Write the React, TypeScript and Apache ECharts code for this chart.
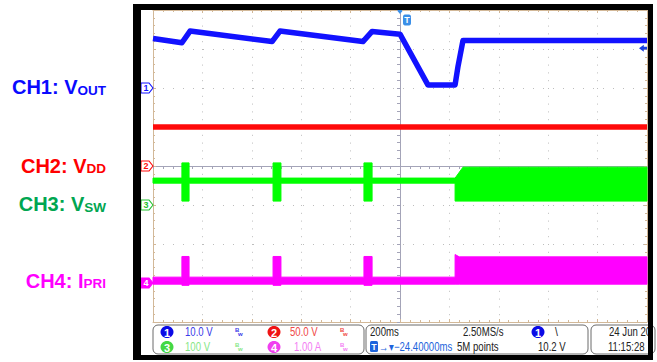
import { useEffect, useRef } from "react";
import * as echarts from "echarts";

// ---- time base: 200 ms/div, 10 divisions, trigger at centre (ms) ----
const timeMin = -1000;
const timeMax = 1000;
const timeStep = 200;

// ---- vertical settings: units/div and ground position (divisions from centre) ----
const chScale = [10, 50, 100, 1];
const chOffset = [2, 0, -1, -3];

// ---- CH1 V_OUT (V) ----
const ch1Time = [-1000, -883, -850, -518, -486, -150, -113, 0, 113, 223, 235, 255, 1000];
const ch1Volts = [12.7, 11.6, 14.6, 11.9, 14.6, 11.9, 14.5, 13.8, 0.8, 0.8, 5.6, 12.2, 12.2];

// ---- CH2 V_DD (V) ----
const ch2Time = [-1000, 1000];
const ch2Volts = [50, 50];

// ---- CH3 V_SW envelope (V) ----
const ch3Time = [-1000, -883, -883, -854, -854, -514, -514, -482, -482, -146, -146, -113, -113, 223, 223, 255, 1000];
const ch3Low = [56, 56, 10, 10, 56, 56, 10, 10, 56, 56, 10, 10, 56, 56, 10, 10, 10];
const ch3High = [69, 69, 108, 108, 69, 69, 108, 108, 69, 69, 108, 108, 69, 69, 69, 97, 97];

// ---- CH4 I_PRI envelope (A) ----
const ch4Time = [-1000, -883, -883, -854, -854, -514, -514, -482, -482, -146, -146, -113, -113, 223, 223, 240, 1000];
const ch4Low = [-0.03, -0.03, -0.06, -0.06, -0.03, -0.03, -0.06, -0.06, -0.03, -0.03, -0.06, -0.06, -0.03, -0.03, -0.03, -0.03, -0.03];
const ch4High = [0.15, 0.15, 0.68, 0.68, 0.15, 0.15, 0.68, 0.68, 0.15, 0.15, 0.68, 0.68, 0.15, 0.15, 0.73, 0.67, 0.67];

// ---- trigger ----
const triggerLevel = 10.2;

// ---- channel labels ----
const chNames = ["CH1: V", "CH2: V", "CH3: V", "CH4: I"];
const chSubs = ["OUT", "DD", "SW", "PRI"];
const chLabelColors = ["#0a0aff", "#ff0000", "#00a651", "#ff00ff"];
const traceColors = ["#1212ff", "#ff0a0a", "#00ff00", "#ff00ff"];

// ---- readout panel texts ----
const vScaleTexts = ["10.0 V", "50.0 V", "100 V", "1.00 A"];
const horizTexts = ["200ms", "2.50MS/s", "5M points"];
const triggerDelayText = "→▾−24.40000ms";
const triggerLevelText = "10.2 V";
const dateTexts = ["24 Jun 20", "11:15:28"];

const FONT_N = "'Liberation Sans', Arial, sans-serif";
const FONT_B = "'Liberation Sans', Arial, sans-serif";

const axisRange = (i: number) => ({
  min: (-4 - chOffset[i]) * chScale[i],
  max: (4 - chOffset[i]) * chScale[i],
});

function envelope(name: string, t: number[], lo: number[], hi: number[], color: string, yAxisIndex: number, marker: any) {
  return {
    type: "custom",
    name,
    xAxisIndex: 0,
    yAxisIndex,
    z: 3,
    silent: true,
    data: t.map((x, i) => [x, lo[i], hi[i]]),
    encode: { x: 0, y: [1, 2] },
    renderItem: (params: any, api: any) => {
      if (params.dataIndex !== 0) return null;
      const top = t.map((x, i) => api.coord([x, hi[i]]));
      const bot = t.map((x, i) => api.coord([x, lo[i]])).reverse();
      return {
        type: "polygon",
        shape: { points: top.concat(bot) },
        style: { fill: color, stroke: color, lineWidth: 1 },
      };
    },
    markPoint: marker,
  };
}

const groundMarker = (num: number, color: string, filled: boolean) => ({
  silent: true,
  animation: false,
  data: [
    {
      coord: [timeMin, 0],
      symbol: "path://M0,0L8,0L12,5L8,10L0,10Z",
      symbolSize: [12, 10],
      symbolOffset: [-6, 0],
      itemStyle: { color: filled ? color : "#ffffff", borderColor: color, borderWidth: 1 },
      label: {
        show: true,
        position: "inside",
        formatter: String(num),
        color: filled ? "#ffffff" : color,
        fontSize: 9,
        fontWeight: "bold",
        fontFamily: FONT_B,
        offset: [-1, 0],
      },
    },
  ],
});

function txt(x: number, y: number, text: string, fill: string, size = 12, align = "left", font = FONT_N, weight = "normal", sx = 0.8) {
  return {
    type: "text",
    x,
    y,
    z: 20,
    scaleX: sx,
    silent: true,
    style: {
      text,
      fill,
      font: `${weight} ${size}px ${font}`,
      textAlign: align,
      textVerticalAlign: "middle",
    },
  };
}

function badge(cx: number, cy: number, num: string, color: string) {
  return [
    { type: "ellipse", z: 20, silent: true, shape: { cx, cy, rx: 6.5, ry: 6 }, style: { fill: color } },
    txt(cx, cy + 0.5, num, "#ffffff", 11, "center", FONT_B, "bold", 1),
  ];
}

function bw(x: number, y: number, color: string) {
  return [
    txt(x, y - 2, "B", color, 6, "left", FONT_B, "bold", 1),
    txt(x + 3, y + 2, "w", color, 6, "left", FONT_B, "bold", 1),
  ];
}

function chLabel(i: number, y: number) {
  const c = chLabelColors[i];
  return {
    type: "text",
    x: 106,
    y,
    z: 20,
    silent: true,
    style: {
      text: `{m|${chNames[i]}}{s|${chSubs[i]}}`,
      textAlign: "right",
      textVerticalAlign: "middle",
      rich: {
        m: { fontSize: 20, fontWeight: "bold", fontFamily: FONT_B, fill: c, lineHeight: 21, verticalAlign: "bottom" },
        s: { fontSize: 13.5, fontWeight: "bold", fontFamily: FONT_B, fill: c, lineHeight: 9, verticalAlign: "bottom" },
      },
    },
  };
}

export default function App() {
  const ref = useRef<HTMLDivElement>(null);

  useEffect(() => {
    if (!ref.current) return;
    const chart = echarts.init(ref.current, undefined, { renderer: "svg" });

    const centre = "#a4a4b8";
    const border = "#d2b898";
    const dotted = { color: "#bdbdbd", width: 1 };

    const xBase = { type: "value", min: timeMin, max: timeMax, interval: timeStep, gridIndex: 0, axisLabel: { show: false } };
    const yDiv = { type: "value", min: -4, max: 4, interval: 1, gridIndex: 0, axisLabel: { show: false } };

    const row1 = 332;
    const row2 = 347;

    const graphics: any[] = [
      // readout boxes
      { type: "rect", z: 15, silent: true, shape: { x: 153, y: 325, width: 211, height: 29, r: 5 }, style: { fill: "#ffffff", stroke: "#6a6a6a", lineWidth: 1 } },
      { type: "rect", z: 15, silent: true, shape: { x: 366, y: 325, width: 222, height: 29, r: 5 }, style: { fill: "#ffffff", stroke: "#6a6a6a", lineWidth: 1 } },
      { type: "rect", z: 15, silent: true, shape: { x: 591, y: 325, width: 64, height: 29, r: 5 }, style: { fill: "#ffffff", stroke: "#6a6a6a", lineWidth: 1 } },
      ...badge(167, row1, "1", "#0a0ae6"),
      ...badge(167, row2, "3", "#44d844"),
      ...badge(274, row1, "2", "#f01414"),
      ...badge(274, row2, "4", "#f040f0"),
      txt(185, row1, vScaleTexts[0], "#3a3ae8"),
      txt(290, row1, vScaleTexts[1], "#f04848"),
      txt(185, row2, vScaleTexts[2], "#86e686"),
      txt(294, row2, vScaleTexts[3], "#f37ef3"),
      ...bw(235, row1, "#3a3ae8"),
      ...bw(340, row1, "#f04848"),
      ...bw(235, row2, "#86e686"),
      ...bw(340, row2, "#f37ef3"),
      txt(370, row1, horizTexts[0], "#222222"),
      txt(463, row1, horizTexts[1], "#222222"),
      txt(457, row2, horizTexts[2], "#222222"),
      ...badge(538, row1, "1", "#0a0ae6"),
      txt(555, row1 - 1, "\\", "#222222", 13),
      txt(538, row2, triggerLevelText, "#222222"),
      { type: "rect", z: 20, silent: true, shape: { x: 370, y: 341, width: 8, height: 11, r: 1.5 }, style: { fill: "#1e64dc" } },
      txt(374, row2, "T", "#ffffff", 9, "center", FONT_B, "bold", 1),
      txt(379, row2, triggerDelayText, "#1e64dc"),
      txt(609, row1, dateTexts[0], "#222222"),
      txt(608, row2, dateTexts[1], "#222222"),
      // channel labels
      chLabel(0, 86.5),
      chLabel(1, 165),
      chLabel(2, 203.5),
      chLabel(3, 280),
      // black frame
      { type: "rect", z: 50, silent: true, shape: { x: 133, y: 4, width: 520, height: 6 }, style: { fill: "#000000" } },
      { type: "rect", z: 50, silent: true, shape: { x: 133, y: 4, width: 8, height: 356 }, style: { fill: "#000000" } },
      { type: "rect", z: 50, silent: true, shape: { x: 648, y: 4, width: 5, height: 356 }, style: { fill: "#000000" } },
      { type: "rect", z: 50, silent: true, shape: { x: 133, y: 355, width: 520, height: 5 }, style: { fill: "#000000" } },
    ];

    const option: any = {
      animation: false,
      backgroundColor: "#ffffff",
      grid: { left: 153, top: 10, width: 494, height: 312, show: false },
      xAxis: [
        {
          ...xBase,
          axisLine: { show: true, onZero: true, onZeroAxisIndex: 0, lineStyle: { color: centre, width: 1 } },
          axisTick: { show: true, length: 3, inside: false, lineStyle: { color: centre } },
          minorTick: { show: true, splitNumber: 5, length: 3, lineStyle: { color: centre } },
          splitLine: { show: true, lineStyle: { ...dotted, type: [1, 6.8] } },
        },
        {
          ...xBase,
          axisLine: { show: true, onZero: true, onZeroAxisIndex: 0, lineStyle: { color: centre, width: 1 } },
          axisTick: { show: true, length: 3, inside: true, lineStyle: { color: centre } },
          minorTick: { show: true, splitNumber: 5, length: 3, lineStyle: { color: centre } },
          splitLine: { show: false },
        },
        {
          ...xBase,
          position: "bottom",
          axisLine: { show: true, onZero: false, lineStyle: { color: border, width: 1 } },
          axisTick: { show: true, length: 3, inside: true, lineStyle: { color: border } },
          minorTick: { show: true, splitNumber: 5, length: 2, lineStyle: { color: border } },
          splitLine: { show: false },
        },
        {
          ...xBase,
          position: "top",
          axisLine: { show: true, onZero: false, lineStyle: { color: border, width: 1 } },
          axisTick: { show: true, length: 3, inside: true, lineStyle: { color: border } },
          minorTick: { show: true, splitNumber: 5, length: 2, lineStyle: { color: border } },
          splitLine: { show: false },
        },
      ],
      yAxis: [
        {
          ...yDiv,
          axisLine: { show: true, onZero: true, onZeroAxisIndex: 0, lineStyle: { color: centre, width: 1 } },
          axisTick: { show: true, length: 3, inside: false, lineStyle: { color: centre } },
          minorTick: { show: true, splitNumber: 5, length: 3, lineStyle: { color: centre } },
          splitLine: { show: true, lineStyle: { ...dotted, type: [1, 9] } },
        },
        { type: "value", gridIndex: 0, show: false, ...axisRange(0) },
        { type: "value", gridIndex: 0, show: false, ...axisRange(1) },
        { type: "value", gridIndex: 0, show: false, ...axisRange(2) },
        { type: "value", gridIndex: 0, show: false, ...axisRange(3) },
        {
          ...yDiv,
          axisLine: { show: true, onZero: true, onZeroAxisIndex: 0, lineStyle: { color: centre, width: 1 } },
          axisTick: { show: true, length: 3, inside: true, lineStyle: { color: centre } },
          minorTick: { show: true, splitNumber: 5, length: 3, lineStyle: { color: centre } },
          splitLine: { show: false },
        },
        {
          ...yDiv,
          position: "left",
          axisLine: { show: true, onZero: false, lineStyle: { color: border, width: 1 } },
          axisTick: { show: true, length: 3, inside: true, lineStyle: { color: border } },
          minorTick: { show: true, splitNumber: 5, length: 2, lineStyle: { color: border } },
          splitLine: { show: false },
        },
        {
          ...yDiv,
          position: "right",
          axisLine: { show: true, onZero: false, lineStyle: { color: border, width: 1 } },
          axisTick: { show: true, length: 3, inside: true, lineStyle: { color: border } },
          minorTick: { show: true, splitNumber: 5, length: 2, lineStyle: { color: border } },
          splitLine: { show: false },
        },
      ],
      series: [
        {
          type: "line",
          name: "CH2",
          xAxisIndex: 0,
          yAxisIndex: 2,
          z: 3,
          silent: true,
          symbol: "none",
          data: ch2Time.map((x, i) => [x, ch2Volts[i]]),
          lineStyle: { color: traceColors[1], width: 5.5 },
          markPoint: groundMarker(2, traceColors[1], false),
        },
        envelope("CH3", ch3Time, ch3Low, ch3High, traceColors[2], 3, groundMarker(3, "#22c22e", false)),
        envelope("CH4", ch4Time, ch4Low, ch4High, traceColors[3], 4, groundMarker(4, traceColors[3], true)),
        {
          type: "line",
          name: "CH1",
          xAxisIndex: 0,
          yAxisIndex: 1,
          z: 4,
          silent: true,
          symbol: "none",
          data: ch1Time.map((x, i) => [x, ch1Volts[i]]),
          lineStyle: { color: traceColors[0], width: 5.5, join: "round" },
          markPoint: {
            silent: true,
            animation: false,
            data: [
              groundMarker(1, traceColors[0], false).data[0],
              {
                coord: [timeMax, triggerLevel],
                symbol: "path://M0,5L6,0L6,3L10,3L10,7L6,7L6,10Z",
                symbolSize: [8, 7],
                symbolOffset: [-4, 0],
                itemStyle: { color: "#1a3fe0" },
                label: { show: false },
              },
              {
                coord: [0, axisRange(0).max],
                symbol: "diamond",
                symbolSize: [5, 6],
                symbolOffset: [0, 1],
                itemStyle: { color: "#3a8fe8" },
                label: { show: false },
              },
              {
                coord: [0, axisRange(0).max],
                symbol: "roundRect",
                symbolSize: [8, 11],
                symbolOffset: [7, 10],
                itemStyle: { color: "#3a8fe8" },
                label: { show: true, position: "inside", formatter: "T", color: "#ffffff", fontSize: 9, fontWeight: "bold", fontFamily: FONT_B },
              },
            ],
          },
        },
      ],
      graphic: { elements: graphics },
    };

    chart.setOption(option);
    return () => chart.dispose();
  }, []);

  return (
    <div style={{ position: "absolute", left: 0, top: 0, width: 657, height: 362, background: "#ffffff" }}>
      <div ref={ref} style={{ width: 657, height: 362 }} />
    </div>
  );
}
